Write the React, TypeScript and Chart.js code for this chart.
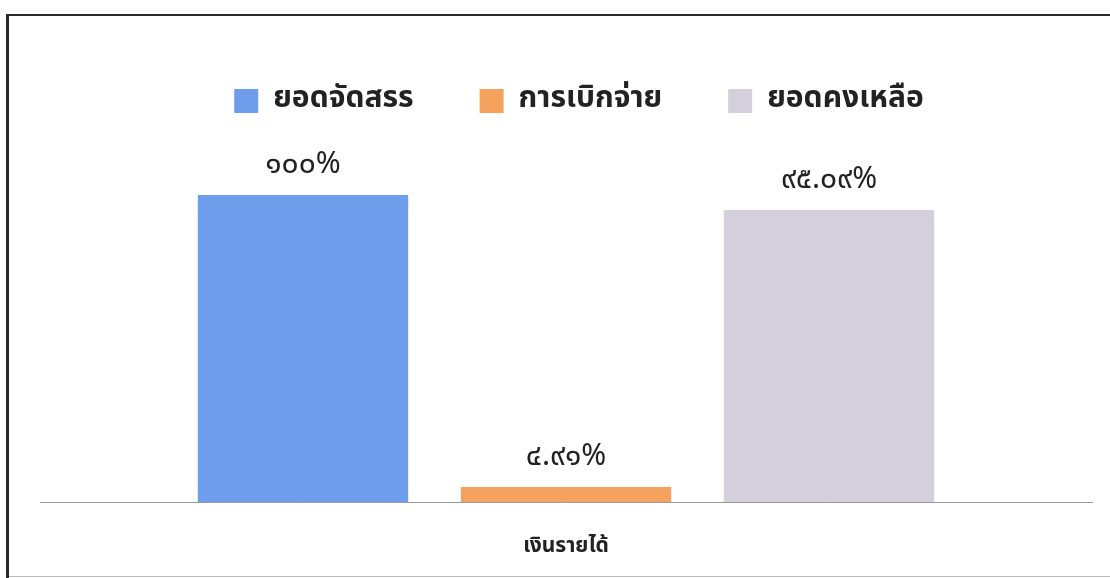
import React, { useEffect, useRef } from "react";
import { Chart, registerables } from "chart.js";

Chart.register(...registerables);

const categories = ["เงินรายได้"];
const seriesNames = ["ยอดจัดสรร", "การเบิกจ่าย", "ยอดคงเหลือ"];
const seriesValues = [100, 4.91, 95.09];
const seriesColors = ["#6d9deb", "#f6a25f", "#d3cfdb"];

const FONT = "'Noto Sans Thai', 'Noto Sans', Tahoma, sans-serif";

const thaiDigits = "๐๑๒๓๔๕๖๗๘๙";
const toThai = (v: number) =>
  (Number.isInteger(v) ? String(v) : v.toFixed(2)).replace(/[0-9]/g, (d) => thaiDigits[+d]) + "%";

const legendHeightPlugin = {
  id: "legendHeight",
  beforeInit(chart: any) {
    const fit = chart.legend.fit;
    chart.legend.fit = function () {
      fit.bind(chart.legend)();
      this.height = 175;
    };
  },
  afterLayout(chart: any) {
    chart.legend.left += 13;
    chart.legend.right += 13;
  },
};

const valueLabels = {
  id: "valueLabels",
  afterDatasetsDraw(chart: any) {
    const ctx = chart.ctx;
    ctx.save();
    ctx.font = `400 30px ${FONT}`;
    ctx.fillStyle = "#222";
    ctx.textAlign = "center";
    ctx.textBaseline = "middle";
    chart.data.datasets.forEach((ds: any, i: number) => {
      const meta = chart.getDatasetMeta(i);
      meta.data.forEach((bar: any, j: number) => {
        ctx.fillText(toThai(ds.data[j]), bar.x, bar.y - 28);
      });
    });
    ctx.restore();
  },
};

export default function App() {
  const ref = useRef<HTMLCanvasElement>(null);
  useEffect(() => {
    document.body.style.margin = "0";
    const chart = new Chart(ref.current!, {
      type: "bar",
      data: {
        labels: categories,
        datasets: seriesNames.map((name, i) => ({
          label: name,
          data: [seriesValues[i]],
          backgroundColor: seriesColors[i],
          categoryPercentage: 0.75,
          barPercentage: 0.8,
        })),
      },
      options: {
        animation: false,
        responsive: false,
        layout: { padding: { top: 20, left: 40, right: 18, bottom: 0 } },
        plugins: {
          legend: {
            position: "top",
            labels: {
              boxWidth: 24,
              boxHeight: 24,
              padding: 66,
              color: "#222",
              font: { family: FONT, size: 30, weight: "bold" },
            },
          },
          tooltip: { enabled: false },
        },
        scales: {
          x: {
            grid: { display: false, drawTicks: false },
            border: { display: true, color: "#9a9a9a", width: 1 },
            ticks: {
              padding: 33,
              color: "#222",
              font: { family: FONT, size: 21, weight: "bold" },
            },
            afterFit(scale: any) {
              scale.height = 76;
            },
          },
          y: {
            display: false,
            min: 0,
            max: 100,
          },
        },
      },
      plugins: [legendHeightPlugin, valueLabels],
    });
    return () => chart.destroy();
  }, []);
  return (
    <div style={{ position: "absolute", left: 0, top: 0, width: 1110, height: 578, background: "#fff", overflow: "hidden" }}>
      <canvas ref={ref} width={1110} height={578} style={{ position: "absolute", left: 0, top: 0 }} />
      <div style={{ position: "absolute", left: 6, top: 14, width: 3, height: 564, background: "#2a2a2a" }} />
      <div style={{ position: "absolute", left: 6, top: 14, width: 1104, height: 2, background: "#2a2a2a" }} />
      <div style={{ position: "absolute", left: 9, top: 576, width: 1101, height: 1, background: "#bbb" }} />
    </div>
  );
}
